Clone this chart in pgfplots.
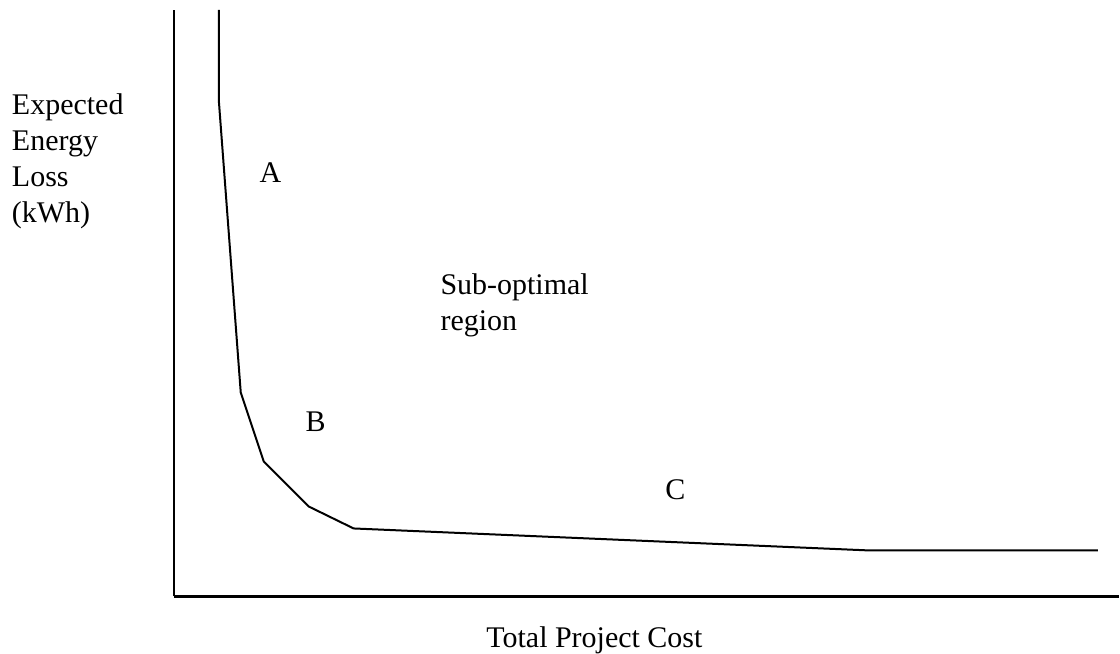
\documentclass[border=0pt]{standalone}
\usepackage{fontspec}
\setmainfont{Liberation Serif}
\usepackage{pgfplots}
\pgfplotsset{compat=1.18}
\tikzset{lab/.style={font=\fontsize{12pt}{14.4pt}\selectfont, inner sep=0pt, outer sep=0pt}}
\begin{document}
\begin{tikzpicture}
\begin{axis}[
  scale only axis,
  width=378.4pt, height=234.8pt,
  xmin=174, xmax=1120, ymin=56, ymax=643,
  axis lines=left,
  axis line style={-, line width=0.9pt, black},
  ticks=none,
  clip=false,
]
\addplot[black, line width=0.8pt, mark=none] coordinates {
  (219,643) (219,553) (241,260) (264,191) (309,146) (354,124) (870,102) (1099,102)
};
\coordinate (bl) at (axis cs:0,0);
\coordinate (tr) at (axis cs:1120,653);
\node[lab, anchor=base west] at (axis cs:12,538) {Expected};
\node[lab, anchor=base west] at (axis cs:12,502) {Energy};
\node[lab, anchor=base west] at (axis cs:12,466) {Loss};
\node[lab, anchor=base west] at (axis cs:12,430) {(kWh)};
\node[lab, anchor=base west] at (axis cs:260,470) {A};
\node[lab, anchor=base west] at (axis cs:306,221) {B};
\node[lab, anchor=base] at (axis cs:676,153) {C};
\node[lab, anchor=base west] at (axis cs:441,358) {Sub-optimal};
\node[lab, anchor=base west] at (axis cs:441,322) {region};
\node[lab, anchor=base] at (axis cs:595,5) {Total Project Cost};
\end{axis}
\path (bl) rectangle (tr);
\end{tikzpicture}
\end{document}
